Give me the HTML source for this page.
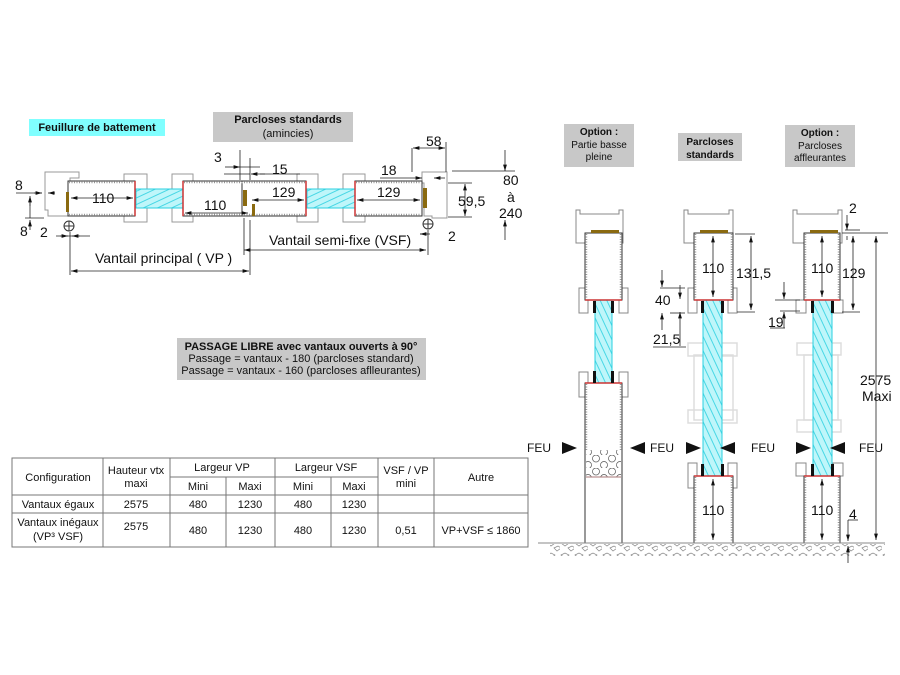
<!DOCTYPE html>
<html><head><meta charset="utf-8"><style>
html,body{margin:0;padding:0;background:#fff}
svg{display:block}
text{font-family:"Liberation Sans",Arial,sans-serif;fill:#111}
</style></head><body>
<svg width="900" height="675" viewBox="0 0 900 675" xmlns="http://www.w3.org/2000/svg">
<defs>
<pattern id="gh" width="6" height="6" patternUnits="userSpaceOnUse" patternTransform="rotate(-25)">
<rect width="6" height="6" fill="#bff6fa"/><line x1="0" y1="3" x2="6" y2="3" stroke="#2ad0e0" stroke-width="0.8"/></pattern>
<pattern id="gv" width="6" height="6" patternUnits="userSpaceOnUse" patternTransform="rotate(65)">
<rect width="6" height="6" fill="#bff6fa"/><line x1="0" y1="3" x2="6" y2="3" stroke="#2ad0e0" stroke-width="0.8"/></pattern>
<pattern id="hex" width="16" height="13" patternUnits="userSpaceOnUse">
<rect width="16" height="13" fill="#fff"/><circle cx="4" cy="3.5" r="3.5" fill="none" stroke="#555" stroke-width="0.7"/><circle cx="12" cy="10" r="3.5" fill="none" stroke="#555" stroke-width="0.7"/></pattern>
<pattern id="gr" width="14" height="12" patternUnits="userSpaceOnUse">
<rect width="14" height="12" fill="#fff"/><path d="M1 3 l4 -2 l4 2 l-4 3z M8 8 l4 -2 l3 2 l-4 3z" fill="none" stroke="#888" stroke-width="0.7"/></pattern>
<marker id="a" viewBox="0 0 10 6" refX="10" refY="3" markerWidth="8" markerHeight="5" orient="auto-start-reverse"><path d="M0 0 L10 3 L0 6z" fill="#111"/></marker>
</defs>

<rect x="29" y="119" width="136" height="17" fill="#80ffff"/>
<text x="97" y="131" font-size="11" font-weight="bold" text-anchor="middle">Feuillure de battement</text>
<rect x="213" y="112" width="140" height="30" fill="#c8c8c8"/>
<text x="288" y="123" font-size="11" font-weight="bold" text-anchor="middle">Parcloses standards</text>
<text x="288" y="137" font-size="11" text-anchor="middle">(amincies)</text>

<g fill="none" stroke="#999" stroke-width="1">
<path d="M45 172 H79 V178 H70 V183 H68 V216 H48 V210 H45 Z"/>
<path d="M422 172 H447 V218 H432 V216 H424 V183 H422 Z" />
<rect x="124" y="174" width="23" height="48"/>
<rect x="172" y="174" width="21" height="48"/>
<rect x="297" y="174" width="21" height="48"/>
<rect x="343" y="174" width="22" height="48"/>
</g>
<g fill="#fff" stroke="#333" stroke-width="1">
<rect x="68" y="181" width="67" height="35"/>
<rect x="183" y="181" width="59" height="35"/>
<rect x="242" y="181" width="64" height="35"/>
<rect x="355" y="181" width="67" height="35"/>
</g>
<g stroke="#999" stroke-width="1.5" stroke-dasharray="1 1.5">
<line x1="69" y1="182.5" x2="134" y2="182.5"/><line x1="69" y1="214.5" x2="134" y2="214.5"/>
<line x1="184" y1="182.5" x2="305" y2="182.5"/><line x1="184" y1="214.5" x2="305" y2="214.5"/>
<line x1="356" y1="182.5" x2="421" y2="182.5"/><line x1="356" y1="214.5" x2="421" y2="214.5"/>
</g>
<rect x="136" y="189" width="47" height="19" fill="url(#gh)" stroke="#2ad0e0"/>
<rect x="307" y="189" width="48" height="19" fill="url(#gh)" stroke="#2ad0e0"/>
<g stroke="#c33" stroke-width="1.5"><line x1="135" y1="181" x2="135" y2="216"/><line x1="183" y1="181" x2="183" y2="216"/><line x1="306" y1="181" x2="306" y2="216"/><line x1="355" y1="181" x2="355" y2="216"/></g>
<g fill="#8a6a10"><rect x="66" y="192" width="3" height="20"/><rect x="243" y="190" width="4" height="16"/><rect x="252" y="204" width="3" height="12"/><rect x="423" y="188" width="4" height="20"/></g>
<g fill="none" stroke="#333"><circle cx="69" cy="226" r="5"/><line x1="64" y1="226" x2="74" y2="226"/><line x1="69" y1="221" x2="69" y2="231"/>
<circle cx="428" cy="224" r="5"/><line x1="423" y1="224" x2="433" y2="224"/><line x1="428" y1="219" x2="428" y2="229"/></g>

<g stroke="#222" stroke-width="0.8" fill="none">
<line x1="71" y1="198" x2="133" y2="198" marker-start="url(#a)" marker-end="url(#a)"/>
<line x1="185" y1="213" x2="248" y2="213" marker-start="url(#a)" marker-end="url(#a)"/>
<line x1="252" y1="200" x2="304" y2="200" marker-start="url(#a)" marker-end="url(#a)" />
<line x1="357" y1="200" x2="420" y2="200" marker-start="url(#a)" marker-end="url(#a)"/>
<line x1="70" y1="232" x2="70" y2="275"/><line x1="250" y1="220" x2="250" y2="275"/>
<line x1="71" y1="271" x2="249" y2="271" marker-start="url(#a)" marker-end="url(#a)"/>
<line x1="244" y1="250" x2="426" y2="250" marker-start="url(#a)" marker-end="url(#a)"/>
<line x1="244" y1="218" x2="244" y2="255"/><line x1="428" y1="230" x2="428" y2="255"/>
<line x1="420" y1="234" x2="428" y2="234" /><line x1="440" y1="234" x2="450" y2="234" marker-end="url(#a)" transform="rotate(180 435 234)"/>
<line x1="56" y1="236" x2="90" y2="236"/><line x1="60" y1="236" x2="68" y2="236" marker-end="url(#a)"/><line x1="80" y1="236" x2="72" y2="236" marker-end="url(#a)"/>
<line x1="16" y1="193" x2="42" y2="193"/><line x1="34" y1="193" x2="42" y2="193" marker-end="url(#a)"/><line x1="55" y1="193" x2="48" y2="193" marker-end="url(#a)"/>
<line x1="30" y1="199" x2="30" y2="218"/><line x1="30" y1="196" x2="30" y2="206" marker-start="url(#a)"/><line x1="30" y1="230" x2="30" y2="220" marker-end="url(#a)"/>
<line x1="25" y1="218" x2="44" y2="218"/>
<line x1="240" y1="150" x2="240" y2="180"/><line x1="250" y1="158" x2="250" y2="180"/>
<line x1="225" y1="167" x2="240" y2="167" marker-end="url(#a)"/><line x1="240" y1="167" x2="260" y2="167"/>
<line x1="224" y1="174" x2="250" y2="174"/><line x1="265" y1="174" x2="251" y2="174" marker-end="url(#a)"/><line x1="260" y1="174" x2="300" y2="174"/>
<line x1="380" y1="178" x2="410" y2="178"/><line x1="410" y1="178" x2="422" y2="178" marker-end="url(#a)"/><line x1="445" y1="178" x2="434" y2="178" marker-end="url(#a)"/>
<line x1="412" y1="148" x2="412" y2="172"/><line x1="446" y1="142" x2="446" y2="172"/>
<line x1="413" y1="148" x2="445" y2="148" marker-start="url(#a)" marker-end="url(#a)"/>
<line x1="448" y1="183" x2="472" y2="183"/><line x1="448" y1="217" x2="472" y2="217"/>
<line x1="465" y1="184" x2="465" y2="216" marker-start="url(#a)" marker-end="url(#a)"/>
<line x1="452" y1="171" x2="515" y2="171"/><line x1="505" y1="150" x2="505" y2="171" marker-end="url(#a)"/><line x1="505" y1="240" x2="505" y2="220" marker-end="url(#a)"/>
</g>
<g font-size="14">
<text x="92" y="203">110</text><text x="204" y="210">110</text><text x="272" y="197">129</text><text x="377" y="197">129</text>
<text x="15" y="190">8</text><text x="20" y="236">8</text><text x="40" y="237">2</text>
<text x="214" y="162">3</text><text x="272" y="174">15</text><text x="381" y="175">18</text><text x="426" y="146">58</text>
<text x="458" y="206">59,5</text><text x="503" y="185">80</text><text x="507" y="202">à</text><text x="499" y="218">240</text>
<text x="448" y="241">2</text>
<text x="95" y="263">Vantail principal ( VP )</text><text x="269" y="245">Vantail semi-fixe (VSF)</text>
</g>

<rect x="177" y="338" width="249" height="42" fill="#c8c8c8"/>
<text x="301" y="350" font-size="11" font-weight="bold" text-anchor="middle">PASSAGE LIBRE avec vantaux ouverts à 90°</text>
<text x="301" y="362" font-size="11" text-anchor="middle">Passage = vantaux - 180 (parcloses standard)</text>
<text x="301" y="374" font-size="11" text-anchor="middle">Passage = vantaux - 160 (parcloses aflleurantes)</text>

<g stroke="#777" stroke-width="1" fill="none">
<rect x="12" y="458" width="516" height="89"/>
<line x1="12" y1="495" x2="528" y2="495"/><line x1="12" y1="513" x2="528" y2="513"/>
<line x1="170" y1="477" x2="378" y2="477"/>
<line x1="103" y1="458" x2="103" y2="547"/><line x1="170" y1="458" x2="170" y2="547"/><line x1="226" y1="477" x2="226" y2="547"/>
<line x1="275" y1="458" x2="275" y2="547"/><line x1="331" y1="477" x2="331" y2="547"/><line x1="378" y1="458" x2="378" y2="547"/><line x1="434" y1="458" x2="434" y2="547"/>
</g>
<g font-size="11" text-anchor="middle">
<text x="58" y="481">Configuration</text><text x="136" y="474">Hauteur vtx</text><text x="136" y="487">maxi</text>
<text x="222" y="471">Largeur VP</text><text x="326" y="471">Largeur VSF</text><text x="406" y="474">VSF / VP</text><text x="406" y="487">mini</text><text x="481" y="481">Autre</text>
<text x="198" y="490">Mini</text><text x="250" y="490">Maxi</text><text x="303" y="490">Mini</text><text x="354" y="490">Maxi</text>
<text x="58" y="508">Vantaux égaux</text><text x="136" y="508">2575</text><text x="198" y="508">480</text><text x="250" y="508">1230</text><text x="303" y="508">480</text><text x="354" y="508">1230</text>
<text x="58" y="526">Vantaux inégaux</text><text x="58" y="540">(VP³ VSF)</text><text x="136" y="530">2575</text><text x="198" y="534">480</text><text x="250" y="534">1230</text><text x="303" y="534">480</text><text x="354" y="534">1230</text><text x="406" y="534">0,51</text><text x="481" y="534">VP+VSF ≤ 1860</text>
</g>

<rect x="564" y="124" width="70" height="43" fill="#c8c8c8"/>
<text x="599" y="135" font-size="10" font-weight="bold" text-anchor="middle">Option :</text>
<text x="599" y="148" font-size="10" text-anchor="middle">Partie basse</text>
<text x="599" y="160" font-size="10" text-anchor="middle">pleine</text>
<rect x="678" y="133" width="64" height="28" fill="#c8c8c8"/>
<text x="710" y="145" font-size="10" font-weight="bold" text-anchor="middle">Parcloses</text>
<text x="710" y="158" font-size="10" font-weight="bold" text-anchor="middle">standards</text>
<rect x="785" y="125" width="70" height="42" fill="#c8c8c8"/>
<text x="820" y="136" font-size="10" font-weight="bold" text-anchor="middle">Option :</text>
<text x="820" y="149" font-size="10" text-anchor="middle">Parcloses</text>
<text x="820" y="161" font-size="10" text-anchor="middle">affleurantes</text>

<g fill="none" stroke="#888" stroke-width="1">
<path d="M576 210 H580 V214 H619 V210 H623 V243 H622 V233 H586 V243 H576 Z"/>
<path d="M684 210 H688 V214 H729 V210 H733 V243 H732 V233 H694 V243 H684 Z"/>
<path d="M793 210 H797 V214 H838 V210 H842 V243 H840 V233 H804 V243 H793 Z"/>
<rect x="579" y="288" width="9" height="25"/><rect x="619" y="288" width="9" height="25"/>
<rect x="579" y="372" width="9" height="25"/><rect x="619" y="372" width="9" height="25"/>
<rect x="688" y="288" width="9" height="25"/><rect x="728" y="288" width="9" height="25"/>
<rect x="688" y="463" width="9" height="25"/><rect x="728" y="463" width="9" height="25"/>
<rect x="796" y="300" width="10" height="13"/><rect x="833" y="300" width="10" height="13"/>
<rect x="796" y="463" width="10" height="13"/><rect x="833" y="463" width="10" height="13"/>
</g>
<g fill="none" stroke="#ddd" stroke-width="1.5">
<rect x="688" y="343" width="49" height="13"/><rect x="694" y="355" width="39" height="65"/><rect x="688" y="410" width="49" height="13"/>
<rect x="797" y="343" width="44" height="12"/><rect x="804" y="355" width="34" height="65"/><rect x="797" y="420" width="44" height="12"/>
</g>
<g fill="#fff" stroke="#333" stroke-width="1">
<rect x="585" y="233" width="37" height="67"/><rect x="694" y="233" width="39" height="67"/><rect x="804" y="233" width="36" height="67"/>
<rect x="585" y="383" width="37" height="160"/><rect x="694" y="476" width="39" height="67"/><rect x="804" y="476" width="36" height="67"/>
</g>
<rect x="586" y="450" width="35" height="27" fill="url(#hex)"/>
<line x1="586" y1="477" x2="621" y2="477" stroke="#a77" />
<g stroke="#999" stroke-width="1.5" stroke-dasharray="1 1.5">
<line x1="586.5" y1="234" x2="586.5" y2="299"/><line x1="620.5" y1="234" x2="620.5" y2="299"/>
<line x1="586.5" y1="384" x2="586.5" y2="450"/><line x1="620.5" y1="384" x2="620.5" y2="450"/>
<line x1="695.5" y1="234" x2="695.5" y2="299"/><line x1="731.5" y1="234" x2="731.5" y2="299"/>
<line x1="695.5" y1="477" x2="695.5" y2="542"/><line x1="731.5" y1="477" x2="731.5" y2="542"/>
<line x1="805.5" y1="234" x2="805.5" y2="299"/><line x1="838.5" y1="234" x2="838.5" y2="299"/>
<line x1="805.5" y1="477" x2="805.5" y2="542"/><line x1="838.5" y1="477" x2="838.5" y2="542"/>
</g>
<g stroke="#c8a070"><line x1="586" y1="543" x2="621" y2="543"/><line x1="695" y1="543" x2="732" y2="543"/></g>
<rect x="595" y="300" width="17" height="83" fill="url(#gv)" stroke="#2ad0e0"/>
<rect x="703" y="300" width="19" height="176" fill="url(#gv)" stroke="#2ad0e0"/>
<rect x="813" y="300" width="19" height="176" fill="url(#gv)" stroke="#2ad0e0"/>
<g stroke="#c33" stroke-width="1.5"><line x1="585" y1="300" x2="622" y2="300"/><line x1="585" y1="383" x2="622" y2="383"/><line x1="694" y1="300" x2="733" y2="300"/><line x1="694" y1="476" x2="733" y2="476"/><line x1="804" y1="300" x2="840" y2="300"/><line x1="804" y1="476" x2="840" y2="476"/></g>
<g fill="#8a6a10"><rect x="591" y="230" width="28" height="3"/><rect x="700" y="230" width="28" height="3"/><rect x="810" y="230" width="28" height="3"/></g>
<g fill="#111"><rect x="593" y="301" width="3" height="12"/><rect x="611" y="301" width="3" height="12"/><rect x="593" y="371" width="3" height="12"/><rect x="611" y="371" width="3" height="12"/>
<rect x="701" y="301" width="3" height="12"/><rect x="721" y="301" width="3" height="12"/><rect x="701" y="464" width="3" height="12"/><rect x="721" y="464" width="3" height="12"/>
<rect x="811" y="301" width="3" height="12"/><rect x="831" y="301" width="3" height="12"/><rect x="811" y="464" width="3" height="12"/><rect x="831" y="464" width="3" height="12"/></g>
<line x1="538" y1="543" x2="885" y2="543" stroke="#888"/>
<rect x="550" y="544" width="335" height="12" fill="url(#gr)"/>
<g fill="#111">
<path d="M562 442 L577 448 L562 454z"/><path d="M645 442 L630 448 L645 454z"/>
<path d="M686 442 L701 448 L686 454z"/><path d="M735 442 L720 448 L735 454z"/>
<path d="M796 442 L811 448 L796 454z"/><path d="M845 442 L830 448 L845 454z"/>
</g>
<g font-size="12"><text x="527" y="452">FEU</text><text x="650" y="452">FEU</text><text x="751" y="452">FEU</text><text x="859" y="452">FEU</text></g>
<g stroke="#222" stroke-width="0.8" fill="none">
<line x1="713" y1="236" x2="713" y2="297" marker-start="url(#a)" marker-end="url(#a)"/>
<line x1="713" y1="479" x2="713" y2="540" marker-start="url(#a)" marker-end="url(#a)"/>
<line x1="822" y1="236" x2="822" y2="297" marker-start="url(#a)" marker-end="url(#a)"/>
<line x1="822" y1="479" x2="822" y2="540" marker-start="url(#a)" marker-end="url(#a)"/>
<line x1="735" y1="234" x2="755" y2="234"/><line x1="737" y1="312" x2="755" y2="312"/>
<line x1="751" y1="236" x2="751" y2="310" marker-start="url(#a)" marker-end="url(#a)"/>
<line x1="660" y1="288" x2="685" y2="288"/><line x1="670" y1="313" x2="685" y2="313"/>
<line x1="662" y1="270" x2="662" y2="287" marker-end="url(#a)"/><line x1="662" y1="313" x2="662" y2="330" marker-start="url(#a)"/>
<line x1="680" y1="285" x2="680" y2="299" marker-end="url(#a)"/><line x1="680" y1="320" x2="680" y2="312" marker-end="url(#a)"/><line x1="653" y1="347" x2="686" y2="347"/><line x1="680" y1="320" x2="680" y2="346"/>
<line x1="842" y1="233" x2="888" y2="233"/><line x1="842" y1="312" x2="860" y2="312"/>
<line x1="853" y1="236" x2="853" y2="310" marker-start="url(#a)" marker-end="url(#a)"/>
<line x1="847" y1="215" x2="847" y2="230" marker-end="url(#a)"/><line x1="847" y1="236" x2="847" y2="240"/><line x1="845" y1="230" x2="860" y2="230"/>
<line x1="775" y1="300" x2="800" y2="300"/><line x1="780" y1="311" x2="800" y2="311"/>
<line x1="784" y1="282" x2="784" y2="299" marker-end="url(#a)"/><line x1="784" y1="320" x2="784" y2="312" marker-end="url(#a)"/><line x1="770" y1="328" x2="785" y2="328"/><line x1="784" y1="320" x2="784" y2="328"/>
<line x1="876" y1="236" x2="876" y2="540" marker-start="url(#a)" marker-end="url(#a)"/>
<line x1="848" y1="520" x2="858" y2="520"/><line x1="848" y1="520" x2="848" y2="541" marker-end="url(#a)"/><line x1="848" y1="563" x2="848" y2="546" marker-end="url(#a)"/>
</g>
<g font-size="14">
<text x="702" y="273">110</text><text x="736" y="278">131,5</text><text x="702" y="515">110</text>
<text x="811" y="273">110</text><text x="842" y="278">129</text><text x="811" y="515">110</text>
<text x="655" y="305">40</text><text x="653" y="344">21,5</text><text x="768" y="327">19</text>
<text x="849" y="213">2</text><text x="849" y="519">4</text>
<text x="860" y="385">2575</text><text x="862" y="401">Maxi</text>
</g>
</svg>
</body></html>
